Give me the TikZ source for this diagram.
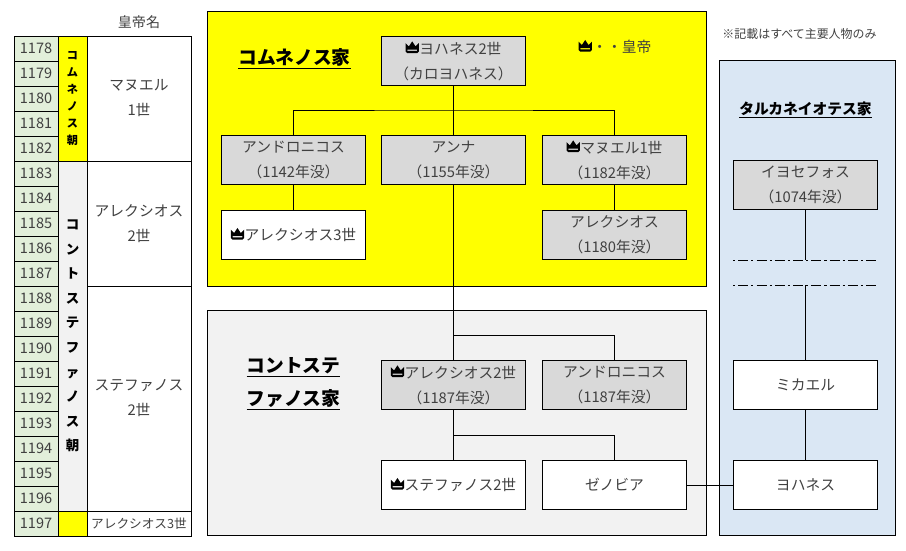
\documentclass[tikz,border=0pt]{standalone}
\usepackage{fontspec}
\setmainfont{Noto Sans CJK JP}
\definecolor{yeargreen}{HTML}{E2EFDA}
\definecolor{persongray}{HTML}{D9D9D9}
\definecolor{panelgray}{HTML}{F2F2F2}
\definecolor{panelblue}{HTML}{DAE7F4}
\definecolor{panelyellow}{RGB}{255,255,0}
\definecolor{inkgray}{HTML}{404040}
\newcommand{\crownicon}{\tikz[x=0.95pt,y=0.95pt,baseline=-1pt]{\fill[black,even odd rule]
  (0,1.5) -- (0,9) -- (3,6) -- (6,10.5) -- (9,6) -- (12,9) -- (12,1.5) -- (10.5,0) -- (1.5,0) -- cycle
  (1.6,2) rectangle (10.4,3.2);}\hspace{0.5pt}}
\tikzset{
  panel/.style={draw=black,line width=0.7pt,anchor=north west,inner sep=0pt,outer sep=0pt},
  person/.style={draw=black,line width=0.7pt,minimum width=4.32cm,minimum height=1.47cm,inner sep=0pt,
    align=center,text=inkgray,font=\fontsize{12.6}{21.3}\selectfont},
  persongrayb/.style={person,fill=persongray},
  personwhite/.style={person,fill=white},
  yearcell/.style={draw=black,line width=0.5pt,fill=yeargreen,minimum width=1.32cm,minimum height=0.75cm,
    inner sep=0pt,text=inkgray,font=\fontsize{12.4}{14}\selectfont},
  namecell/.style={draw=black,line width=0.7pt,fill=white,minimum width=3.12cm,inner sep=0pt,align=center,
    text=inkgray,font=\fontsize{12.6}{21.3}\selectfont},
  dynastycell/.style={draw=black,line width=0.7pt,minimum width=0.87cm,inner sep=0pt,align=center},
  housetitle/.style={align=center,font=\bfseries\fontsize{16}{28}\selectfont},
  link/.style={draw=black,line width=0.7pt},
  lostline/.style={draw=black,line width=0.8pt,dash pattern=on 8.5pt off 2.6pt on 1.8pt off 2.7pt,dash phase=11.1pt}
}
\begin{document}
\begin{tikzpicture}[x=0.03cm,y=-0.03cm]
  \useasboundingbox (0,0) rectangle (906,550);

  \node[text=inkgray,font=\fontsize{12}{14}\selectfont] (headname) at (139,22) {皇帝名};
  \foreach \n in {0,...,19}{
    \pgfmathtruncatemacro{\yr}{1178+\n}
    \node[yearcell] (year\yr) at (36,{48.5+25*\n}) {\yr};
  }
  \node[dynastycell,fill=panelyellow,minimum height=3.75cm,font=\bfseries\fontsize{9.5}{14.5}\selectfont] (komnenoi) at (72.5,98.5)
    {コ\\ム\\ネ\\ノ\\ス\\朝};
  \node[dynastycell,fill=panelgray,minimum height=10.5cm,font=\bfseries\fontsize{11.5}{21}\selectfont] (kontostephanoi) at (72.5,336)
    {コ\\ン\\ト\\ス\\テ\\フ\\ァ\\ノ\\ス\\朝};
  \node[dynastycell,fill=panelyellow,minimum height=0.75cm] (lastdynasty) at (72.5,523.5) {};
  \node[namecell,minimum height=3.75cm] (manuelname) at (139,98.5) {マヌエル\\1世};
  \node[namecell,minimum height=3.75cm] (alexiosname) at (139,223.5) {アレクシオス\\2世};
  \node[namecell,minimum height=6.75cm] (stephanosname) at (139,398.5) {ステファノス\\2世};
  \node[namecell,minimum height=0.75cm,font=\fontsize{10.8}{14}\selectfont] (lastname) at (139,523.5) {アレクシオス3世};

  \node[panel,fill=panelyellow,minimum width=14.97cm,minimum height=8.25cm] (yellowpanel) at (207,11) {};
  \node[panel,fill=panelgray,minimum width=14.97cm,minimum height=6.75cm] (graypanel) at (207,310) {};
  \node[panel,fill=panelblue,minimum width=5.28cm,minimum height=14.25cm] (bluepanel) at (719,60) {};

  \node[housetitle] (komnenos) at (294.5,59) {\underline{コムネノス家}};
  \node[housetitle] (kontoste) at (293.5,384) {\underline{コントステ}\\\underline{ファノス家}};
  \node[housetitle,font=\bfseries\fontsize{12.6}{16}\selectfont] (tarkaneiotes) at (805.5,110) {\underline{タルカネイオテス家}};
  \node[text=inkgray,font=\fontsize{12.6}{14}\selectfont] (legend) at (615,47) {\crownicon・・皇帝};
  \node[text=inkgray,font=\fontsize{10.2}{12}\selectfont] (note) at (799.5,34) {※記載はすべて主要人物のみ};

  \node[persongrayb] (johnII) at (453.5,61) {\crownicon ヨハネス2世\\（カロヨハネス）};
  \node[persongrayb] (andronikos) at (293.5,160) {アンドロニコス\\（1142年没）};
  \node[persongrayb] (anna) at (453.5,160) {アンナ\\（1155年没）};
  \node[persongrayb] (manuel) at (614.5,160) {\crownicon マヌエル1世\\（1182年没）};
  \node[personwhite] (alexiosIII) at (293.5,235) {\crownicon アレクシオス3世};
  \node[persongrayb] (alexiosson) at (614.5,235) {アレクシオス\\（1180年没）};
  \node[persongrayb] (alexiosII) at (453.5,385) {\crownicon アレクシオス2世\\（1187年没）};
  \node[persongrayb] (andronikosk) at (614.5,385) {アンドロニコス\\（1187年没）};
  \node[personwhite] (stephanos) at (453.5,485) {\crownicon ステファノス2世};
  \node[personwhite] (zenobia) at (614.5,485) {ゼノビア};
  \node[persongrayb] (ioseph) at (805.5,185) {イヨセフォス\\（1074年没）};
  \node[personwhite] (michael) at (805.5,385) {ミカエル};
  \node[personwhite] (john) at (805.5,485) {ヨハネス};

  \coordinate (johnbranch) at (453.5,110);
  \coordinate (annabranch) at (453.5,335);
  \coordinate (alexiosbranch) at (453.5,435);
  \coordinate (gapleftA) at (733,260);
  \coordinate (gaprightA) at (878,260);
  \coordinate (gapleftB) at (733,285);
  \coordinate (gaprightB) at (878,285);
  \coordinate (gaptop) at (805.5,260);
  \coordinate (gapbottom) at (805.5,285);

  \draw[link] (johnII.south) -- (anna.north);
  \draw[link] (andronikos.north) |- (johnbranch) -| (manuel.north);
  \draw[link] (andronikos.south) -- (alexiosIII.north);
  \draw[link] (manuel.south) -- (alexiosson.north);
  \draw[link] (anna.south) -- (alexiosII.north);
  \draw[link] (annabranch) -| (andronikosk.north);
  \draw[link] (alexiosII.south) -- (stephanos.north);
  \draw[link] (alexiosbranch) -| (zenobia.north);
  \draw[link] (zenobia.east) -- (john.west);
  \draw[link] (ioseph.south) -- (gaptop);
  \draw[link] (gapbottom) -- (michael.north);
  \draw[link] (michael.south) -- (john.north);
  \draw[lostline] (gapleftA) -- (gaprightA);
  \draw[lostline] (gapleftB) -- (gaprightB);
\end{tikzpicture}
\end{document}
